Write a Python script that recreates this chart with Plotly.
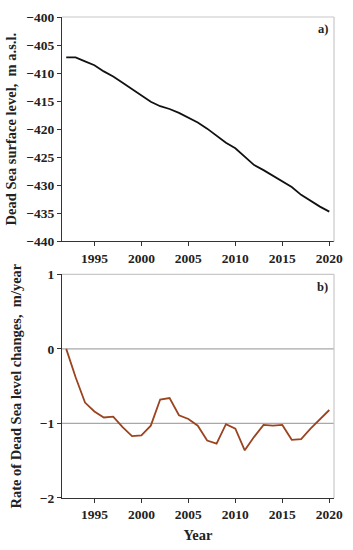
import plotly.graph_objects as go

years = list(range(1992, 2021))
level = [-407.2, -407.2, -407.9, -408.6, -409.7, -410.6, -411.7, -412.8, -413.9, -415.1,
         -415.9, -416.4, -417.1, -417.9, -418.8, -419.9, -421.1, -422.4, -423.4, -424.9,
         -426.4, -427.3, -428.3, -429.3, -430.3, -431.7, -432.8, -433.8, -434.7]
rate = [0.0, -0.38, -0.72, -0.84, -0.92, -0.91, -1.05, -1.17, -1.16, -1.03,
        -0.68, -0.66, -0.89, -0.94, -1.03, -1.23, -1.27, -1.01, -1.07, -1.36,
        -1.18, -1.02, -1.03, -1.02, -1.22, -1.21, -1.07, -0.94, -0.82]
xtick_vals = [1995, 2000, 2005, 2010, 2015, 2020]
ytick_a = [-400, -405, -410, -415, -420, -425, -430, -435, -440]
ytick_b = [1, 0, -1, -2]

FONT = "Liberation Serif, Times New Roman, serif"
TF = dict(family=FONT, size=13.5, color="#222222", weight="bold")
fig = go.Figure()
fig.add_trace(go.Scatter(x=years, y=level, mode="lines", line=dict(color="#111111", width=1.8),
                         xaxis="x", yaxis="y", showlegend=False, hoverinfo="skip"))
fig.add_trace(go.Scatter(x=years, y=rate, mode="lines", line=dict(color="#9a4420", width=1.8),
                         xaxis="x2", yaxis="y2", showlegend=False, hoverinfo="skip"))

xcommon = dict(range=[1991.55, 2020.5], tickvals=xtick_vals, showgrid=False, zeroline=False,
               showline=True, linecolor="#333333", linewidth=1.2, ticks="outside", ticklen=4,
               tickcolor="#333333", tickfont=TF, ticklabeloverflow="allow")
ycommon = dict(showgrid=False, zeroline=False, showline=True, linecolor="#333333", linewidth=1.2,
               ticks="outside", ticklen=4, tickcolor="#333333", tickfont=TF)

top_dom = [0.5335, 1.0]
bot_dom = [0.0, 0.4651]
TT = dict(family=FONT, size=14.5, color="#222222", weight="bold")

fig.update_layout(
    width=353, height=550,
    margin=dict(l=55, r=10, t=11, b=42),
    paper_bgcolor="white", plot_bgcolor="white",
    font=dict(family=FONT, color="#222222"),
    xaxis=dict(**xcommon, anchor="y", domain=[0, 1]),
    yaxis=dict(**ycommon, range=[-440, -400], tickvals=ytick_a, domain=top_dom, anchor="x",
               title=dict(text="Dead Sea surface level,  m a.s.l.", font=TT, standoff=6)),
    xaxis2=dict(**xcommon, anchor="y2", domain=[0, 1],
                title=dict(text="Year", font=TT, standoff=8)),
    yaxis2=dict(**ycommon, range=[-2, 1], tickvals=ytick_b, domain=bot_dom, anchor="x2",
                title=dict(text="Rate of Dead Sea level changes,  m/year", font=TT, standoff=14)),
)

for xr, yr in (("x domain", "y domain"), ("x2 domain", "y2 domain")):
    fig.add_shape(type="line", xref=xr, yref=yr, x0=0, x1=1, y0=1, y1=1,
                  line=dict(color="#c8c8c8", width=1.2))
    fig.add_shape(type="line", xref=xr, yref=yr, x0=1, x1=1, y0=0, y1=1,
                  line=dict(color="#c8c8c8", width=1.2))
for v in (0, -1):
    fig.add_shape(type="line", xref="x2 domain", yref="y2", x0=0, x1=1, y0=v, y1=v,
                  line=dict(color="#a8a8a8", width=1.2), layer="below")

fig.add_annotation(text="a)", xref="x domain", yref="y domain", x=0.985, y=0.985,
                   xanchor="right", yanchor="top", showarrow=False,
                   font=dict(family=FONT, size=12.5, color="#222222", weight="bold"))
fig.add_annotation(text="b)", xref="x2 domain", yref="y2 domain", x=0.985, y=0.985,
                   xanchor="right", yanchor="top", showarrow=False,
                   font=dict(family=FONT, size=12.5, color="#222222", weight="bold"))

fig.write_html("out.html", config={"displayModeBar": False},
               post_script="document.body.style.margin='0';document.body.style.overflow='hidden';")
